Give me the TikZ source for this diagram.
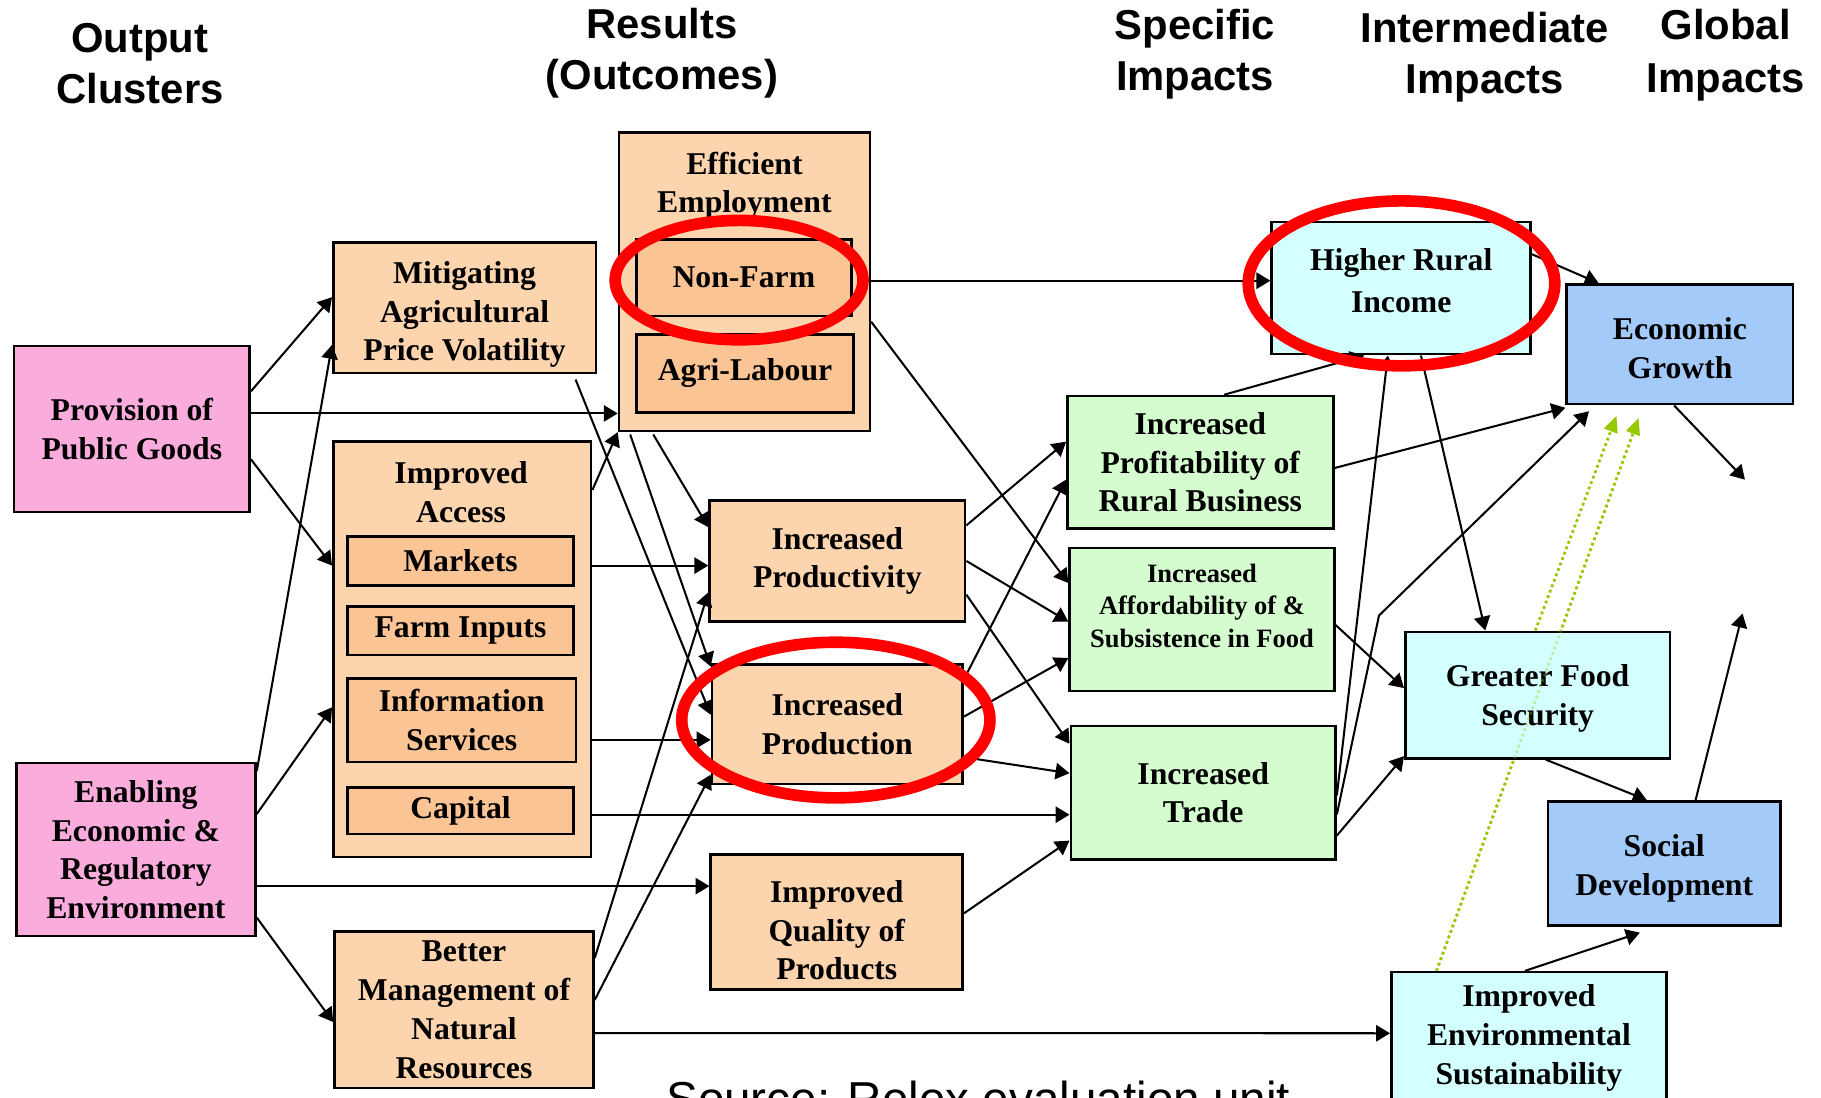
\documentclass[tikz,border=0pt]{standalone}
\usepackage{fontspec}
\setmainfont{Liberation Serif}
\newfontfamily\hdrfont{Liberation Sans}
\usetikzlibrary{arrows.meta,backgrounds}
\definecolor{orangeA}{RGB}{252,212,174}
\definecolor{orangeB}{RGB}{250,196,148}
\definecolor{pinkA}{RGB}{250,172,220}
\definecolor{greenA}{RGB}{212,252,206}
\definecolor{cyanA}{RGB}{212,255,255}
\definecolor{blueA}{RGB}{164,202,250}
\definecolor{ringred}{RGB}{255,0,0}
\definecolor{dotgreen}{RGB}{150,200,0}
\newcommand{\boxtextfont}{\fontsize{27.3}{33.3}\selectfont\bfseries}
\newcommand{\smallboxfont}{\fontsize{22.8}{28}\selectfont\bfseries}
\newcommand{\headerfont}{\hdrfont\bfseries\fontsize{36}{44}\selectfont}
\begin{document}
\begin{tikzpicture}[x=1pt,y=-1pt,
  box/.style={draw=black, line width=2.2pt, align=center, inner sep=0pt, font=\boxtextfont},
  orbox/.style={box, fill=orangeA},
  subbox/.style={box, fill=orangeB},
  pkbox/.style={box, fill=pinkA},
  grbox/.style={box, fill=greenA},
  cybox/.style={box, fill=cyanA},
  blbox/.style={box, fill=blueA},
  titletext/.style={align=center, inner sep=0pt, font=\boxtextfont},
  hdr/.style={align=center, inner sep=0pt, font=\headerfont},
  arr/.style={draw=black, line width=1.75pt, -{Triangle[length=12pt,width=14pt]}},
  dotarr/.style={draw=dotgreen, line width=2.4pt, dash pattern=on 2.4pt off 2.6pt, -{Triangle[length=14pt,width=12pt,fill=dotgreen]}},
  ring/.style={draw=ringred, line width=10pt}
]
\useasboundingbox (0,0) rectangle (1568,945);

% headers
\node[hdr] (h1) at (120.5,54.5) {Output\\Clusters};
\node[hdr] (h2) at (570,46) {Results\\(Outcomes)};
\node[hdr] (h3) at (1029,47) {Specific\\Impacts};
\node[hdr] (h4) at (1278.5,49) {Intermediate\\Impacts};
\node[hdr] (h5) at (1486,47.5) {Global\\[2pt]Impacts};

% output clusters
\node[pkbox, minimum width=203pt, minimum height=143pt] (prov) at (113.5,369.5) {Provision of\\Public Goods};
\node[pkbox, minimum width=206pt, minimum height=149pt] (enab) at (117,731.5) {Enabling\\Economic \&\\Regulatory\\Environment};

% results
\node[orbox, minimum width=226pt, minimum height=112pt,
  label={[titletext, yshift=-6pt]center:Mitigating\\Agricultural\\Price Volatility}] (mit) at (400,265) {};
\node[orbox, minimum width=222pt, minimum height=358pt] (acc) at (398,559) {};
\node[titletext] (acctitle) at (397,423.5) {Improved\\Access};
\node[subbox, minimum width=195pt, minimum height=42pt] (mkt) at (396.5,483) {Markets};
\node[subbox, minimum width=195pt, minimum height=42pt] (fin) at (396.5,543) {Farm Inputs};
\node[subbox, minimum width=197pt, minimum height=72pt] (info) at (397.5,620) {Information\\Services};
\node[subbox, minimum width=195pt, minimum height=40pt] (cap) at (396.5,698) {Capital};
\node[orbox, minimum width=223pt, minimum height=135pt] (bm) at (399.5,869.5) {Better\\Management of\\Natural\\Resources};

\node[orbox, minimum width=216pt, minimum height=257pt] (ee) at (641,242.5) {};
\node[titletext] (eetitle) at (641,160) {Efficient\\Employment};
\node[subbox, minimum width=185pt, minimum height=66pt] (nf) at (640.5,239) {Non-Farm};
\node[subbox, minimum width=187pt, minimum height=67pt] (al) at (641.5,321.5) {Agri-Labour};

\node[orbox, minimum width=220pt, minimum height=104pt] (ip) at (721,483) {Increased\\Productivity};
\node[orbox, minimum width=216pt, minimum height=103pt] (iprod) at (721,623.5) {Increased\\Production};
\node[orbox, minimum width=217pt, minimum height=116pt,
  label={[titletext, yshift=-7pt]center:Improved\\Quality of\\Products}] (iqp) at (720.5,794) {};

% specific impacts
\node[grbox, minimum width=229pt, minimum height=114pt] (prof) at (1033.5,398) {Increased\\Profitability of\\Rural Business};
\node[grbox, minimum width=228pt, minimum height=123pt,
  label={[titletext, font=\smallboxfont, yshift=12pt]center:Increased\\Affordability of \&\\Subsistence in Food}] (aff) at (1035,533.5) {};
\node[grbox, minimum width=228pt, minimum height=115pt] (trade) at (1036,682.5) {Increased\\Trade};

% intermediate impacts
\node[cybox, minimum width=223pt, minimum height=114pt,
  label={[titletext, yshift=6.5pt]center:Higher Rural\\[3pt]Income}] (hri) at (1206.5,248) {};
\node[cybox, minimum width=228pt, minimum height=109pt,
  label={[titletext, yshift=-3pt]center:Greater Food\\Security}] (gfs) at (1324,598.5) {};
\node[cybox, minimum width=237pt, anchor=north, inner ysep=11pt] (ies) at (1316.5,836) {Improved\\Environmental\\Sustainability};

% global impacts
\node[blbox, minimum width=195pt, minimum height=103pt,
  label={[titletext, yshift=-3pt]center:Economic\\Growth}] (eg) at (1446.5,296.5) {};
\node[blbox, minimum width=200pt, minimum height=107pt,
  label={[titletext, yshift=-4pt]center:Social\\Development}] (sd) at (1433,743.5) {};

% source
\node[anchor=north west, inner sep=0pt, font=\hdrfont\fontsize{41}{48}\selectfont] (src) at (573.5,931) {Source: Relex evaluation unit};

% connectors from output clusters
\draw[arr] ([yshift=-40pt]prov.north east) -- ([yshift=-48pt]mit.north west);
\draw[arr] ([yshift=13.5pt]prov.east) -- ([yshift=-113.5pt]ee.west);
\draw[arr] ([yshift=-26pt]prov.east) -- ([yshift=72pt]acc.west);
\draw[arr] ([yshift=-8pt]enab.north east) -- ([yshift=-89pt]mit.north west);
\draw[arr] ([yshift=-45pt]enab.north east) -- ([yshift=-50pt]acc.west);
\draw[arr] ([yshift=-31.5pt]enab.east) -- ([yshift=31pt]iqp.west);
\draw[arr] ([yshift=17pt]enab.south east) -- ([yshift=-10.5pt]bm.west);

% connectors among results
\draw[arr] ([yshift=-43pt]acc.north east) -- (ee.south west);
\draw[arr] ([yshift=72pt]acc.east) -- ([yshift=-4pt]ip.west);
\draw[arr] ([yshift=-78pt]acc.east) -- ([yshift=-13.5pt]iprod.west);
\draw[arr] ([yshift=-142.5pt]acc.east) -- ([yshift=-19pt]trade.west);
\draw[arr] ([xshift=-18.5pt,yshift=-4.7pt]mit.south east) -- ([yshift=8pt]iprod.west);
\draw[arr] ([xshift=30.6pt,yshift=-2pt]ee.south west) -- ([yshift=-24pt]ip.north west);
\draw[arr] ([xshift=10.7pt,yshift=-2pt]ee.south west) -- ([yshift=-3pt]iprod.north west);
\draw[arr] ([yshift=-24pt]bm.north east) -- ([yshift=-27pt]ip.west);
\draw[arr] ([yshift=8.5pt]bm.east) -- ([yshift=9pt]iprod.south west);
\draw[arr] ([yshift=-20pt]bm.east) -- ([yshift=-53.7pt]ies.north west);

% results to specific impacts
\draw[arr] ([yshift=0.8pt]ee.east) -- ([yshift=6.3pt]hri.west);
\draw[arr] ([yshift=-34.5pt]ee.east) -- ([yshift=31.5pt]aff.west);
\draw[arr] ([yshift=-22.5pt]ip.north east) -- ([yshift=17.7pt]prof.west);
\draw[arr] (ip.east) -- ([yshift=-1.8pt]aff.west);
\draw[arr] ([yshift=-29pt]ip.east) -- ([yshift=-16.5pt]trade.north west);
\draw[arr] ([xshift=3pt,yshift=-8pt]iprod.north east) -- ([yshift=-15pt]prof.west);
\draw[arr] ([yshift=6.5pt]iprod.east) -- ([yshift=29.6pt]aff.south west);
\draw[arr] ([yshift=-28.5pt]iprod.east) -- ([yshift=16.7pt]trade.west);
\draw[arr] ([yshift=7.6pt]iqp.east) -- ([yshift=17.3pt]trade.south west);

% specific to intermediate / global
\draw[arr] ([xshift=20.5pt]prof.north) -- ([xshift=-31.8pt]hri.south);
\draw[arr] ([yshift=-2.4pt]trade.east) -- ([xshift=-11.5pt]hri.south);
\draw[arr] ([xshift=17pt]hri.south) -- ([xshift=70pt]gfs.north west);
\draw[arr] ([yshift=-29pt]hri.north east) -- ([xshift=28.7pt]eg.north west);
\draw[arr] ([yshift=-5pt]prof.east) -- ([yshift=-2pt]eg.south west);
\coordinate (kink) at (1187.4,530);
\draw[arr] ([yshift=-18.8pt]trade.east) -- (kink) -- ([xshift=20.3pt,yshift=-5pt]eg.south west);
\draw[arr] ([yshift=-4.7pt]aff.east) -- ([yshift=6pt]gfs.west);
\draw[arr] ([yshift=-37pt]trade.east) -- ([yshift=3pt]gfs.south west);
\draw[arr] ([xshift=7pt]gfs.south) -- ([xshift=-15pt]sd.north);
\coordinate (egend) at (1502.5,413);
\draw[arr] ([xshift=-5pt]eg.south) -- (egend);
\coordinate (sdend) at (1500.4,528.3);
\draw[arr] ([xshift=27pt]sd.north) -- (sdend);
\draw[arr] ([xshift=-3.5pt]ies.north) -- ([xshift=-21pt,yshift=-5pt]sd.south);

% dotted green arrows
\draw[dotarr] ([xshift=-2pt]gfs.north) -- ([xshift=44pt,yshift=-9pt]eg.south west);
\begin{pgfonlayer}{background}
\draw[dotarr] ([xshift=40pt]ies.north west) -- ([xshift=63pt,yshift=-11pt]eg.south west);
\end{pgfonlayer}
\draw[dotarr, opacity=0.35] ([xshift=40pt]ies.north west) -- ([xshift=63pt,yshift=-11pt]eg.south west);

% red rings
\draw[ring] (636.4,241.2) ellipse [x radius=106.7, y radius=51.4];
\draw[ring] (1206.8,244) ellipse [x radius=132, y radius=71];
\draw[ring] (719.7,620) ellipse [x radius=132.7, y radius=67];
\end{tikzpicture}
\end{document}
